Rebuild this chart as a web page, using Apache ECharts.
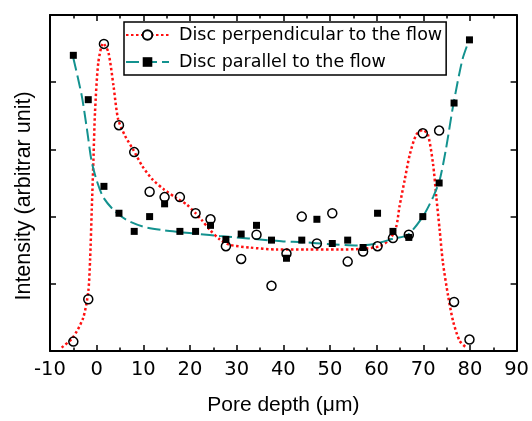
<!DOCTYPE html>
<html>
<head>
<meta charset="utf-8">
<script src="https://cdn.jsdelivr.net/npm/echarts@6/dist/echarts.min.js"></script>
<style>
  html, body { margin: 0; padding: 0; background: #fff; }
  #chart { width: 532px; height: 421px; }
</style>
</head>
<body>
<div id="chart"></div>
<script>
// Measured intensity vs. pore depth for two disc orientations
const depthPoints = [-5.0, -1.8, 1.56, 4.78, 8.05, 11.35, 14.56, 17.84, 21.2, 24.4, 27.7, 30.97, 34.26,
  37.47, 40.68, 43.96, 47.2, 50.5, 53.8, 57.1, 60.2, 63.5, 66.9, 69.9, 73.4, 76.6, 79.9];
const perpValues = [0.14, 0.77, 4.57, 3.36, 2.96, 2.37, 2.29, 2.29, 2.05, 1.96, 1.56, 1.37, 1.73,
  0.97, 1.45, 2.0, 1.6, 2.05, 1.33, 1.48, 1.56, 1.68, 1.73, 3.24, 3.28, 0.73, 0.17];
const paraValues = [4.40, 3.74, 2.45, 2.05, 1.78, 2.0, 2.19, 1.78, 1.78, 1.87, 1.66, 1.74, 1.87,
  1.65, 1.38, 1.65, 1.96, 1.6, 1.65, 1.54, 2.05, 1.78, 1.69, 2.0, 2.5, 3.69, 4.63];

// Fitted profiles
const perpFitX = [-7.5, -5.1, -2.9, -1.8, -1.4, -1.05, -0.7, -0.35, 0.35, 1.4, 2.5, 3.6, 4.6, 6.1, 7.8,
  9.8, 12.0, 14.5, 17.0, 19.3, 21.2, 22.5, 24.3, 26.4, 28.5, 32.8, 38.5, 45, 52, 57, 60.7, 62.8, 64.2,
  64.9, 66.0, 67.1, 68.5, 69.9, 71.0, 72.1, 72.8, 73.5, 74.2, 75.3, 76.4, 77.8, 79.2];
const perpFitY = [0.05, 0.2, 0.49, 0.88, 1.37, 2.1, 2.83, 3.56, 4.29, 4.58, 4.45, 3.95, 3.45, 3.2, 3.0,
  2.75, 2.55, 2.4, 2.28, 2.18, 2.05, 1.95, 1.80, 1.66, 1.58, 1.54, 1.51, 1.51, 1.51, 1.52, 1.56, 1.66, 1.85,
  2.15, 2.54, 2.92, 3.22, 3.29, 3.22, 2.78, 2.29, 1.81, 1.32, 0.83, 0.44, 0.15, 0.05];
const paraFitX = [-5.0, -3.2, -2.1, -1.1, 0, 1.4, 3.6, 6.4, 10, 14, 17.8, 22, 26.4, 30, 35, 40, 44, 50,
  56, 60, 63.5, 66.7, 69.9, 72.1, 73.5, 74.9, 76.4, 78.4, 80];
const paraFitY = [4.36, 3.80, 3.31, 2.83, 2.54, 2.29, 2.10, 1.95, 1.85, 1.80, 1.77, 1.74, 1.71, 1.69, 1.66,
  1.63, 1.62, 1.59, 1.57, 1.60, 1.67, 1.73, 2.0, 2.29, 2.54, 3.02, 3.65, 4.34, 4.66];

const xTicks = { min: -10, max: 90, interval: 10 };
const yTicks = { min: 0, max: 5, interval: 1 };

const perpName = 'Disc perpendicular to the flow';
const paraName = 'Disc parallel to the flow';

const zip = (a, b) => a.map((v, i) => [v, b[i]]);

const RED = '#ff1010';
const TEAL = '#13928f';

const tickFont = 'DejaVu Sans';
const titleFont = 'Liberation Sans';

function xAxisCfg(pos, showLabels) {
  return {
    type: 'value', position: pos, min: xTicks.min, max: xTicks.max, interval: xTicks.interval,
    axisLine: { show: true, onZero: false, lineStyle: { color: '#000', width: 2 } },
    axisTick: { show: true, inside: true, length: 6, lineStyle: { color: '#000', width: 1.5 } },
    minorTick: { show: true, splitNumber: 2, length: 3.5, lineStyle: { color: '#000', width: 1.5 } },
    splitLine: { show: false },
    axisLabel: { show: showLabels, color: '#000', fontFamily: tickFont, fontSize: 19.5, margin: 9 }
  };
}
function yAxisCfg(pos) {
  return {
    type: 'value', position: pos, min: yTicks.min, max: yTicks.max, interval: yTicks.interval,
    axisLine: { show: true, onZero: false, lineStyle: { color: '#000', width: 2 } },
    axisTick: { show: true, inside: true, length: 6, lineStyle: { color: '#000', width: 1.5 } },
    splitLine: { show: false },
    axisLabel: { show: false }
  };
}

const bottomX = Object.assign(xAxisCfg('bottom', true), {
  name: 'Pore depth (\u03bcm)', nameLocation: 'middle', nameGap: 44,
  nameTextStyle: { color: '#000', fontFamily: titleFont, fontSize: 21 }
});
const leftY = Object.assign(yAxisCfg('left'), {
  name: 'Intensity (arbitrar unit)', nameLocation: 'middle', nameGap: 15,
  nameTextStyle: { color: '#000', fontFamily: titleFont, fontSize: 21.5, padding: [0, 26, 0, 0] }
});

const chart = echarts.init(document.getElementById('chart'), null, { renderer: 'canvas' });
chart.setOption({
  animation: false,
  backgroundColor: '#fff',
  grid: { left: 50, right: 15, top: 15, bottom: 64, containLabel: false },
  xAxis: [bottomX, xAxisCfg('top', false)],
  yAxis: [leftY, yAxisCfg('right')],
  legend: {
    data: [perpName, paraName],
    orient: 'vertical',
    left: 124, top: 22,
    padding: [3, 4, 3, 1],
    itemWidth: 43, itemHeight: 12, itemGap: 7,
    borderColor: '#000', borderWidth: 1.5,
    backgroundColor: '#fff',
    textStyle: { color: '#000', fontFamily: tickFont, fontSize: 17.5, lineHeight: 20, padding: [0, 0, 0, 5] }
  },
  series: [
    {
      name: perpName, type: 'line', data: zip(perpFitX, perpFitY),
      smooth: 0.25, showSymbol: false, symbol: 'emptyCircle', symbolSize: 8,
      itemStyle: { color: '#000', borderColor: '#000', borderWidth: 1.5 },
      lineStyle: { color: RED, width: 2.5, type: [2.5, 2.5] },
      z: 3
    },
    {
      name: paraName, type: 'line', data: zip(paraFitX, paraFitY),
      smooth: 0.25, showSymbol: false, symbol: 'rect', symbolSize: 7,
      itemStyle: { color: '#000' },
      lineStyle: { color: TEAL, width: 2, type: [13, 5] },
      z: 3
    },
    {
      name: 'perpendicular (measured)', type: 'scatter', data: zip(depthPoints, perpValues),
      symbol: 'circle', symbolSize: 9,
      itemStyle: { color: 'rgba(255,255,255,0)', borderColor: '#000', borderWidth: 1.5, opacity: 1 },
      z: 4
    },
    {
      name: 'parallel (measured)', type: 'scatter', data: zip(depthPoints, paraValues),
      symbol: 'rect', symbolSize: 7,
      itemStyle: { color: '#000', opacity: 1 },
      z: 5
    }
  ]
});
</script>
</body>
</html>
